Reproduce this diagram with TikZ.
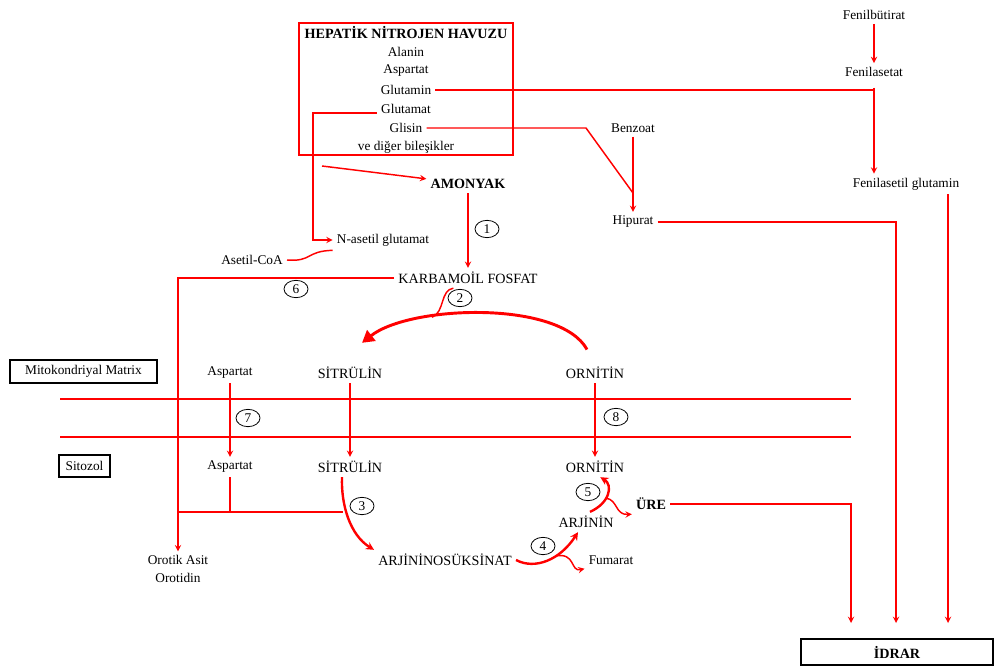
\documentclass[tikz,border=0pt]{standalone}
\usepackage{fontspec}
\setmainfont{Liberation Serif}
\usetikzlibrary{shapes.geometric,arrows.meta}

\tikzset{%
  every metabolite/.style={
    inner sep=3pt
  },
  metabolite caps/.style={
    font=\fontsize{10.6}{12}\selectfont
  },
  metabolite bold/.style={
    font=\fontsize{10.6}{12}\selectfont\bfseries
  },
  red line/.style={
    draw=red,
    line width=1.1pt
  },
  cycle line/.style={
    draw=red,
    line width=1.8pt,
    -{Stealth[length=6pt,width=6pt]}
  },
  step number/.style={
    ellipse,
    draw,
    line width=0.6pt,
    minimum width=18pt,
    minimum height=13pt,
    inner sep=0pt
  },
  compartment/.style={
    draw,
    line width=1.4pt,
    minimum height=17pt,
    inner ysep=0pt
  },
}

\begin{document}
\begin{tikzpicture}[x=0.75pt, y=-0.75pt, >=stealth, font=\fontsize{10}{12}\selectfont]
\useasboundingbox (0,0) rectangle (994,666);

% hepatic nitrogen pool
\draw [draw=red, line width=1.5pt] (299,23) rectangle (513,155);
\node [every metabolite, metabolite bold] (pool-head) at (406,33) {HEPATİK NİTROJEN HAVUZU};
\foreach \m/\l [count=\y] in {ala/Alanin, asp/Aspartat, gln/Glutamin, glu/Glutamat, gly/Glisin, rest/ve diğer bileşikler}
  \node [every metabolite] (pool-\m) at (406,33+\y*19) {\l};

\node [every metabolite, metabolite bold] (amonyak) at (468,184) {AMONYAK};
\node [every metabolite] (nag) at (383,240) {N-asetil glutamat};
\node [every metabolite] (acoa) at (252,260) {Asetil-CoA};
\node [every metabolite, metabolite caps] (karbamoil) at (468,278) {KARBAMOİL FOSFAT};

\node [every metabolite] (benzoat) at (633,128) {Benzoat};
\node [every metabolite] (hipurat) at (633,222) {Hipurat};
\node [every metabolite] (fbut) at (874,15) {Fenilbütirat};
\node [every metabolite] (fas) at (874,72) {Fenilasetat};
\node [every metabolite] (fglu) at (906,184) {Fenilasetil glutamin};

% compartments
\node [compartment, minimum width=110pt, inner xsep=3pt] (mito) at (83.5,371.5) {Mitokondriyal Matrix};
\node [compartment, minimum width=38pt, inner xsep=3pt] (cyto) at (84.5,466) {Sitozol};
\node [compartment, minimum width=144pt, minimum height=19pt, metabolite bold] (idrar) at (897,652) {İDRAR};

\draw [red line] (60,399) -- (851,399);
\draw [red line] (60,437) -- (851,437);

\node [every metabolite] (mito-asp) at (230,373) {Aspartat};
\node [every metabolite] (cyto-asp) at (230,467) {Aspartat};
\foreach \m/\l/\x in {sit/SİTRÜLİN/350, orn/ORNİTİN/595}
  \node [every metabolite, metabolite caps] (mito-\m) at (\x,373) {\l};
\foreach \m/\l/\x in {sit/SİTRÜLİN/350, orn/ORNİTİN/595}
  \node [every metabolite, metabolite caps] (cyto-\m) at (\x,467) {\l};

\node [every metabolite, align=center] (orotik) at (178,569) {Orotik Asit\\[1pt]Orotidin};
\node [every metabolite, metabolite caps] (arjsuk) at (445,560) {ARJİNİNOSÜKSİNAT};
\node [every metabolite, metabolite caps] (arjinin) at (586,522) {ARJİNİN};
\node [every metabolite] (fumarat) at (611,560) {Fumarat};
\node [every metabolite, metabolite bold] (ure) at (651,504) {ÜRE};

\foreach \n/\x/\y in {1/487/229, 2/460/298, 3/362/506, 4/543/546, 5/588/492, 6/296/289, 7/248/418, 8/616/417}
  \node [step number] (step-\n) at (\x,\y) {\n};

% pool connectors
\coordinate (glu-bend) at (313,0);
\coordinate (pool-out) at (322,166);
\coordinate (gly-bend) at (586,128);
\coordinate (hip-join) at (633,193);
\draw [red line, ->] ([yshift=-3pt]pool-glu.west) -- ([yshift=-3pt]pool-glu.west -| glu-bend) |- (nag.west);
\draw [red line, ->] (pool-out) -- (amonyak);
\draw [red line] (pool-gln.east) -- (pool-gln.east -| fas);
\draw [red line] (pool-gly) -- (gly-bend) -- (hip-join);

\draw [red line, ->] (fbut) -- (fas);
\draw [red line, ->] ([yshift=-5pt]fas.south) -- (fas |- fglu.north);
\draw [red line, ->] (benzoat) -- (hipurat);

\draw [red line, ->] (amonyak) -- (karbamoil);
\draw [red line] (acoa.east) .. controls (312,262) and (306,251) .. (nag.south west);
\draw [red line, ->] (karbamoil) -| (orotik);

% urine
\foreach \i/\x in {1/851, 2/896, 3/948}
  \coordinate (urine-\i) at (\x,623);
\draw [red line, ->] (ure) -| (urine-1);
\draw [red line, ->] (hipurat) -| (urine-2);
\draw [red line, ->] (fglu.south -| urine-3) -- (urine-3);

% membrane transport
\foreach \m in {asp, sit, orn}
  \draw [red line, ->] (mito-\m) -- (cyto-\m);

\coordinate (oro-join) at (177,512);
\coordinate (cit-join) at (343,512);
\draw [red line] (oro-join) -- (cit-join);
\draw [red line] (cyto-asp) -- (cyto-asp |- cit-join);

% urea cycle
\coordinate (arc-start) at ([xshift=-6pt, yshift=10pt]mito-orn.north);
\coordinate (arc-end) at ([xshift=9pt, yshift=15pt]mito-sit.north);
\draw [cycle line, line width=2.2pt, -{Triangle[length=9pt,width=10pt]}] (arc-start) .. controls (560,300) and (410,305) .. (arc-end)
  coordinate [pos=0.68] (arc-in);
\draw [red line] ([xshift=-11pt]karbamoil.south) .. controls (440,290) and (445,312) .. (arc-in);

\draw [cycle line] ([xshift=-6pt]cyto-sit.south) .. controls (341,505) and (350,535) .. (arjsuk.north west);

\draw [cycle line] (arjsuk.east) .. controls (535,570) and (560,560) .. ([xshift=-6pt]arjinin.south)
  coordinate [pos=0.62] (fum-join);
\draw [red line, ->] (fum-join) .. controls (576,552) and (570,572) .. (fumarat.south west);

\draw [cycle line] ([xshift=3pt]arjinin.north) .. controls (610,503) and (613,485) .. ([xshift=4pt]cyto-orn.south)
  coordinate [pos=0.4] (ure-join);
\draw [red line, ->] (ure-join) .. controls (618,500) and (615,515) .. (ure.south west);

\end{tikzpicture}
\end{document}
